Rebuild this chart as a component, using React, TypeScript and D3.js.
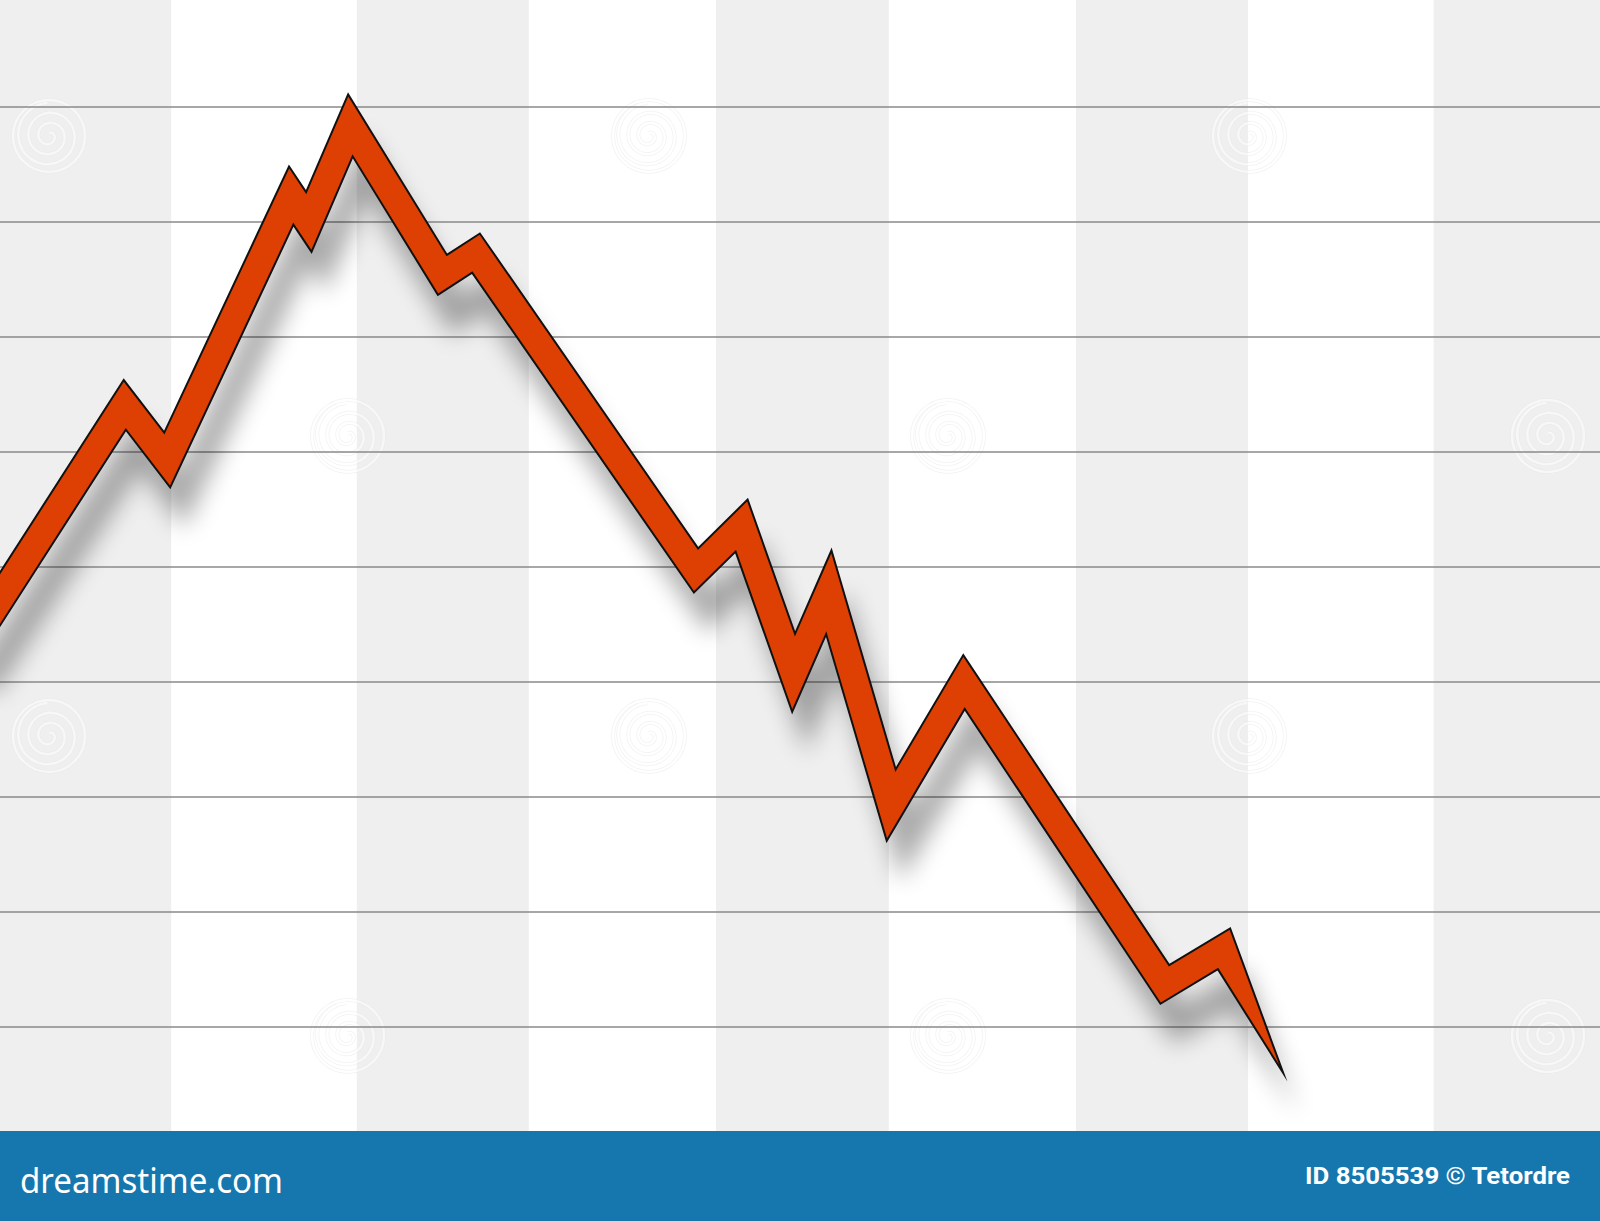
import React from 'react';
import * as d3 from 'd3';

const WIDTH = 1600;
const HEIGHT = 1221;
const PLOT_BOTTOM = 1131;

// Series: x in weeks (0..100), y value
const weeks = [-1.9, 7.8, 10.45, 18.2, 19.3, 21.9, 27.65, 29.75, 43.5, 46.35, 49.6, 51.8, 55.7, 60.25, 72.8, 76.5, 80.2];
const values = [4.31, 6.41, 5.93, 8.23, 8.0, 8.84, 7.54, 7.73, 4.97, 5.36, 4.08, 4.78, 2.93, 4.0, 1.37, 1.68, 0.6];

// alternating column bands (x units)
const columnEdges = [0, 10.7, 22.3, 33.05, 44.75, 55.55, 67.25, 78, 89.6, 100];
const gridValues = [1, 2, 3, 4, 5, 6, 7, 8, 9];

const footerLeft = 'dreamstime.com';
const footerRight = 'ID 8505539 \u00A9 Tetordre';

type Pt = [number, number];

function ribbon(pts: Pt[], h: number): Pt[] {
  const n = pts.length;
  const top: Pt[] = [];
  const bot: Pt[] = [];
  const norm = (a: Pt, b: Pt): Pt => {
    const dx = b[0] - a[0], dy = b[1] - a[1];
    const l = Math.hypot(dx, dy);
    return [dy / l, -dx / l];
  };
  for (let i = 0; i < n - 1; i++) {
    let m: Pt;
    let len = h;
    if (i === 0) {
      m = norm(pts[0], pts[1]);
    } else {
      const n1 = norm(pts[i - 1], pts[i]);
      const n2 = norm(pts[i], pts[i + 1]);
      let mx = n1[0] + n2[0], my = n1[1] + n2[1];
      const ml = Math.hypot(mx, my);
      mx /= ml; my /= ml;
      m = [mx, my];
      len = h / (mx * n1[0] + my * n1[1]);
    }
    top.push([pts[i][0] + m[0] * len, pts[i][1] + m[1] * len]);
    bot.push([pts[i][0] - m[0] * len, pts[i][1] - m[1] * len]);
  }
  return [...top, pts[n - 1], ...bot.reverse()];
}

function spiralPath(): string {
  const pts: [number, number][] = [];
  for (let t = 0; t <= Math.PI * 6; t += 0.1) {
    pts.push([t, 3 + t * 1.6]);
  }
  return d3.lineRadial().curve(d3.curveCardinal)(pts as any) || '';
}

export default function App() {
  const x = d3.scaleLinear().domain([0, 100]).range([0, WIDTH]);
  const y = d3.scaleLinear().domain([0, 9]).range([1142, 107]);

  const centre: Pt[] = weeks.map((w, i) => [x(w), y(values[i])]);
  const poly = ribbon(centre, 14.3);
  const polyPath = d3.line()(poly as any) + 'Z';

  const spiral = spiralPath();
  const marks: Pt[] = [];
  [136, 736].forEach((yy) => [49, 649, 1249].forEach((xx) => marks.push([xx, yy])));
  [436, 1036].forEach((yy) => [348, 948, 1548].forEach((xx) => marks.push([xx, yy])));

  return (
    <svg
      width={WIDTH}
      height={HEIGHT}
      style={{ position: 'absolute', left: 0, top: 0, display: 'block' }}
    >
      <defs>
        <filter id="shadowBlur" x="-20%" y="-20%" width="140%" height="140%">
          <feGaussianBlur stdDeviation="12" />
        </filter>
        <clipPath id="plotClip">
          <rect x={0} y={0} width={WIDTH} height={PLOT_BOTTOM} />
        </clipPath>
      </defs>
      <rect x={0} y={0} width={WIDTH} height={HEIGHT} fill="#ffffff" />
      {columnEdges.slice(0, -1).map((e, i) =>
        i % 2 === 0 ? (
          <rect
            key={i}
            x={x(e)}
            y={0}
            width={x(columnEdges[i + 1]) - x(e)}
            height={PLOT_BOTTOM}
            fill="#efefef"
          />
        ) : null
      )}
      {marks.map((p, i) => (
        <g key={i} transform={`translate(${p[0]},${p[1]})`} opacity={0.55}>
          <path d={spiral} fill="none" stroke="#e8e8e8" strokeWidth={4} />
          <circle r={36} fill="none" stroke="#e8e8e8" strokeWidth={4} />
          <path d={spiral} fill="none" stroke="#ffffff" strokeWidth={2.5} />
          <circle r={36} fill="none" stroke="#ffffff" strokeWidth={2.5} />
        </g>
      ))}
      {gridValues.map((v) => (
        <line
          key={v}
          x1={0}
          x2={WIDTH}
          y1={y(v)}
          y2={y(v)}
          stroke="#8a8a8a"
          strokeWidth={1.6}
        />
      ))}
      <g clipPath="url(#plotClip)">
        <path
          d={polyPath}
          transform="translate(14,40)"
          fill="#000000"
          opacity={0.33}
          filter="url(#shadowBlur)"
        />
        <path
          d={polyPath}
          fill="#de4003"
          stroke="#111111"
          strokeWidth={2}
          strokeLinejoin="miter"
          strokeMiterlimit={20}
        />
      </g>
      <rect x={0} y={PLOT_BOTTOM} width={WIDTH} height={HEIGHT - PLOT_BOTTOM} fill="#1577ae" />
      <text
        x={20}
        y={1193}
        fill="#ffffff"
        fontFamily="'Noto Sans', 'Open Sans', sans-serif"
        fontSize={34}
        textLength={263}
        lengthAdjust="spacingAndGlyphs"
      >
        {footerLeft}
      </text>
      <text
        x={1305}
        y={1184}
        fill="#ffffff"
        fontFamily="Roboto, 'Noto Sans', sans-serif"
        fontWeight={700}
        fontSize={24}
        textLength={265}
        lengthAdjust="spacingAndGlyphs"
      >
        {footerRight}
      </text>
    </svg>
  );
}
